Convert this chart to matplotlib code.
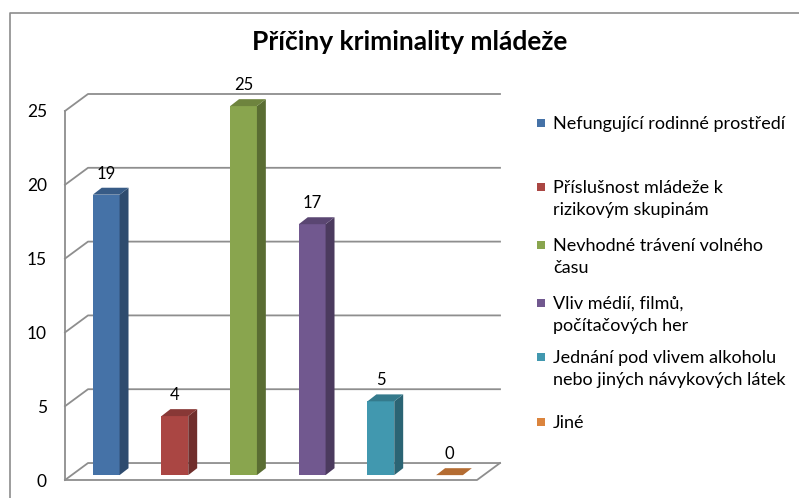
import matplotlib.pyplot as plt
from matplotlib.patches import Polygon, Rectangle
from matplotlib.lines import Line2D
from matplotlib.colors import to_rgb

title = "Příčiny kriminality mládeže"
categories = [
    "Nefungující rodinné prostředí",
    "Příslušnost mládeže k\nrizikovým skupinám",
    "Nevhodné trávení volného\nčasu",
    "Vliv médií, filmů,\npočítačových her",
    "Jednání pod vlivem alkoholu\nnebo jiných návykových látek",
    "Jiné",
]
values = [19, 4, 25, 17, 5, 0]
colors = ["#4572A7", "#AA4643", "#89A54E", "#71588F", "#4198AF", "#DB843D"]
y_ticks = [0, 5, 10, 15, 20, 25]

plt.rcParams['font.family'] = ['Lato', 'DejaVu Sans']

W, H = 799, 498
GRID = '#8e8e8e'

# fake 3D depth, in data units
WALL_DX, WALL_DY = 0.335, 1.15
BAR_X0, BAR_Y0 = 0.10, 0.33
BAR_W = 0.39
SIDE_DX, SIDE_DY = 0.13, 0.47


def fx(px):
    return px / W


def fy(py):
    return 1 - py / H


def shade(c, k):
    r, g, b = to_rgb(c)
    return (r * k, g * k, b * k)


fig = plt.figure(figsize=(W / 100, H / 100), dpi=100)
ax = fig.add_axes([fx(65), fy(480), fx(500) - fx(65), fy(94) - fy(480)])
n = len(values)
x_right = n - 0.5 + WALL_DX
ax.set_xlim(-0.5, x_right)
ax.set_ylim(0, y_ticks[-1] + WALL_DY)

# walls and floor
for v in y_ticks:
    ax.plot([-0.5, -0.5 + WALL_DX, x_right], [v, v + WALL_DY, v + WALL_DY],
            color=GRID, lw=1.3, clip_on=False, zorder=1)
ax.plot([-0.5, n - 0.5, x_right], [0, 0, WALL_DY], color=GRID, lw=1.3,
        clip_on=False, zorder=1)

# bars
for i, (v, c) in enumerate(zip(values, colors)):
    xl = i + BAR_X0 - BAR_W / 2
    xr = xl + BAR_W
    b = BAR_Y0
    t = b + v
    if v > 0:
        ax.add_patch(Rectangle((xl, b), BAR_W, v, facecolor=c, edgecolor='none', zorder=3))
        ax.add_patch(Polygon([(xr, b), (xr + SIDE_DX, b + SIDE_DY),
                              (xr + SIDE_DX, t + SIDE_DY), (xr, t)],
                             closed=True, facecolor=shade(c, 0.66), edgecolor='none', zorder=3))
        top_c = shade(c, 0.8)
    else:
        top_c = shade(c, 0.82)
    ax.add_patch(Polygon([(xl, t), (xr, t), (xr + SIDE_DX, t + SIDE_DY),
                          (xl + SIDE_DX, t + SIDE_DY)],
                         closed=True, facecolor=top_c, edgecolor='none', zorder=3))
    ax.text(i + BAR_X0, t + 1.42, str(v), ha='center', va='center',
            fontsize=12, color='black', zorder=4)

for s in ['top', 'right', 'bottom']:
    ax.spines[s].set_visible(False)
ax.spines['left'].set_bounds(0, y_ticks[-1])
ax.spines['left'].set_color(GRID)
ax.spines['left'].set_linewidth(1.3)
ax.set_xticks([])
ax.set_yticks(y_ticks)
ax.tick_params(axis='y', length=0, pad=13, labelsize=12.5)
ax.patch.set_visible(False)

# chart area border
fig.add_artist(Line2D([fx(10), fx(10), 1], [0, fy(13), fy(13)], color='#8c8c8c', lw=1.2))

fig.text(fx(410), fy(42), title, ha='center', va='center', fontsize=19, fontweight='bold')

# legend
legend_rows = [123, 187, 245, 303, 357, 422]
for lab, c, yc in zip(categories, colors, legend_rows):
    fig.add_artist(Rectangle((fx(537), fy(yc + 4)), fx(8), 8 / H, facecolor=c,
                             edgecolor='none', transform=fig.transFigure))
    for k, line in enumerate(lab.split('\n')):
        fig.text(fx(553), fy(yc + 6 + 21.5 * k), line, ha='left', va='baseline', fontsize=13)

fig.savefig('out.png', dpi=100)
